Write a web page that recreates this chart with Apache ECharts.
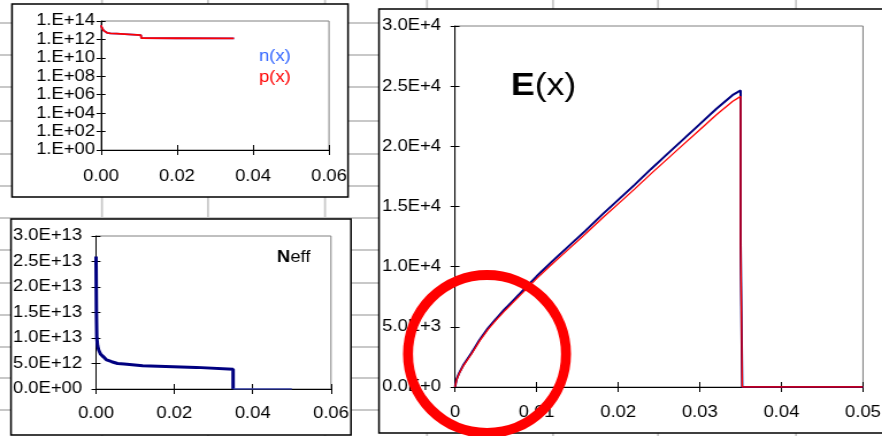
<!DOCTYPE html>
<html>
<head>
<meta charset="utf-8">
<script src="https://cdn.jsdelivr.net/npm/echarts@6/dist/echarts.min.js"></script>
<style>
  html, body { margin: 0; padding: 0; background: #fff; overflow: hidden; }
  #wrap { width: 882px; height: 436px; overflow: hidden; position: relative; }
  /* the sheet is drawn slightly condensed and stretched back horizontally */
  #chart { width: 767px; height: 436px; transform: scaleX(1.15); transform-origin: 0 0; }
</style>
</head>
<body>
<div id="wrap"><div id="chart"></div></div>
<script>
// ---- carrier densities n(x), p(x) versus depth x ----
const densX = [0, 0.0002, 0.0004, 0.0007, 0.0011, 0.0016, 0.0025, 0.0041, 0.0042, 0.0105, 0.0106, 0.02, 0.035];
const nDens = [3.5e13, 2.0e13, 1.3e13, 9.0e12, 6.5e12, 5.2e12, 4.6e12, 4.3e12, 3.1e12, 2.9e12, 1.4e12, 1.35e12, 1.3e12];
const pDens = [3.5e13, 2.0e13, 1.3e13, 9.0e12, 6.5e12, 5.2e12, 4.6e12, 4.3e12, 3.1e12, 2.9e12, 1.4e12, 1.35e12, 1.3e12];

// ---- effective doping Neff versus depth x ----
const neffX = [0, 0.0001, 0.0002, 0.0004, 0.0007, 0.0012, 0.0019, 0.0027, 0.004, 0.0055, 0.0072, 0.0073, 0.0119, 0.012, 0.0256, 0.0257, 0.035, 0.035];
const neffY = [2.6e13, 1.5e13, 1.0e13, 8.5e12, 7.6e12, 6.8e12, 6.3e12, 5.7e12, 5.35e12, 5.0e12, 4.9e12, 4.57e12, 4.57e12, 4.24e12, 4.24e12, 3.85e12, 3.85e12, 0];
const neffTailX = [0.035, 0.05];
const neffTailY = [0, 0];

// ---- electric field E(x) ----
const fieldX = [0, 0.0002, 0.0005, 0.001, 0.0015, 0.002, 0.003, 0.004, 0.005, 0.006, 0.007, 0.008, 0.009, 0.010,
                0.012, 0.014, 0.016, 0.018, 0.020, 0.022, 0.024, 0.026, 0.028, 0.030, 0.032, 0.034, 0.035, 0.035, 0.0352, 0.05];
const fieldN = [0, 650, 1150, 1800, 2300, 2800, 3900, 4850, 5650, 6400, 7100, 7800, 8500, 9200,
                10500, 11750, 13000, 14300, 15550, 16800, 18100, 19350, 20600, 21850, 23100, 24250, 24650, 12000, 0, 0];
const fieldP = [0, 600, 1100, 1740, 2230, 2720, 3810, 4740, 5530, 6270, 6950, 7640, 8320, 9010,
                10280, 11500, 12730, 14000, 15220, 16440, 17710, 18940, 20160, 21380, 22600, 23720, 24150, 12000, 0, 0];

// ---- axis ranges ----
const densRange = { xmin: 0, xmax: 0.06, xstep: 0.02, ymin: 1, ymax: 1e14 };
const neffRange = { xmin: 0, xmax: 0.06, xstep: 0.02, ymin: 0, ymax: 3e13, ystep: 5e12 };
const fieldRange = { xmin: 0, xmax: 0.05, xstep: 0.01, ymin: 0, ymax: 30000, ystep: 5000 };

// ---- page layout ----
const SX = 1.15;
const px = v => v / SX;
const sheetRows = [23, 55, 87, 121, 154, 186, 218, 250, 283, 315, 347, 378, 410];
const sheetCols = [102, 208, 325, 427, 553, 658, 796];
const FONT = '"Liberation Sans", Arial, Helvetica, sans-serif';

const zip = (xs, ys) => xs.map((x, i) => [x, ys[i]]);

function sci(v, pad) {
  const s = v.toExponential(1).split('e');
  let sign = s[1][0], d = s[1].slice(1);
  if (pad) d = d.padStart(2, '0');
  return s[0] + 'E' + sign + d;
}
const logLabel = v => '1.E+' + String(Math.round(Math.log10(v))).padStart(2, '0');

const labelStyle = { color: '#000', fontSize: 16, fontFamily: FONT };

function xAxes(grid, r, margin, fmt) {
  return [
    { type: 'value', gridIndex: grid, position: 'bottom', min: r.xmin, max: r.xmax, interval: r.xstep,
      axisLine: { show: true, lineStyle: { color: '#000', width: 1 } },
      axisTick: { show: true, inside: false, length: 5, lineStyle: { color: '#000' } },
      axisLabel: Object.assign({ margin: margin, formatter: fmt }, labelStyle),
      splitLine: { show: false } },
    { type: 'value', gridIndex: grid, position: 'bottom', min: r.xmin, max: r.xmax, interval: r.xstep,
      axisLine: { show: false },
      axisTick: { show: true, inside: true, length: 5, lineStyle: { color: '#000' } },
      axisLabel: { show: false }, splitLine: { show: false } }
  ];
}
function yAxes(grid, base, margin, fmt) {
  const main = Object.assign({ gridIndex: grid, position: 'left',
      axisLine: { show: true, lineStyle: { color: '#000', width: 1 } },
      axisTick: { show: true, inside: false, length: px(4.5), lineStyle: { color: '#000' } },
      axisLabel: Object.assign({ margin: px(margin), formatter: fmt }, labelStyle),
      splitLine: { show: false } }, base);
  const ghost = Object.assign({ gridIndex: grid, position: 'left',
      axisLine: { show: false },
      axisTick: { show: true, inside: true, length: px(4.5), lineStyle: { color: '#000' } },
      axisLabel: { show: false }, splitLine: { show: false } }, base);
  return [main, ghost];
}

const gridBase = { show: true, borderColor: '#808080', borderWidth: 1, backgroundColor: 'transparent',
                   containLabel: false, outerBoundsMode: 'none' };

// sheet background, chart frames and annotations
const graphics = [];
sheetRows.forEach(y => graphics.push({ type: 'line', silent: true, z: -20,
  shape: { x1: 0, y1: y, x2: px(882), y2: y }, style: { stroke: '#c8c8c8', lineWidth: 2 } }));
sheetCols.forEach(x => graphics.push({ type: 'line', silent: true, z: -20,
  shape: { x1: px(x), y1: 0, x2: px(x), y2: 436 }, style: { stroke: '#c8c8c8', lineWidth: px(2) } }));
[[12, 4, 348, 197], [11, 219, 351, 435], [379, 9, 890, 433]].forEach(b => graphics.push({
  type: 'rect', silent: true, z: -10,
  shape: { x: px(b[0]), y: b[1], width: px(b[2] - b[0]), height: b[3] - b[1] },
  style: { fill: '#fff', stroke: '#000', lineWidth: 1.5 } }));
graphics.push({ type: 'text', silent: true, z: 100, x: px(259), y: 57,
  style: { text: 'n(x)', fill: '#3366ff', fontSize: 16, fontFamily: FONT, verticalAlign: 'middle', textVerticalAlign: 'middle' } });
graphics.push({ type: 'text', silent: true, z: 100, x: px(259), y: 78,
  style: { text: 'p(x)', fill: '#ff0000', fontSize: 16, fontFamily: FONT, verticalAlign: 'middle', textVerticalAlign: 'middle' } });
graphics.push({ type: 'text', silent: true, z: 100, x: px(277), y: 258,
  style: { text: '{b|N}eff', fill: '#000', fontSize: 16, fontFamily: FONT, verticalAlign: 'middle', textVerticalAlign: 'middle',
           rich: { b: { fontWeight: 'bold', fontSize: 16, fontFamily: FONT, fill: '#000' } } } });
graphics.push({ type: 'text', silent: true, z: 100, x: px(511), y: 86,
  style: { text: '{b|E}(x)', fill: '#000', fontSize: 31, fontFamily: FONT, verticalAlign: 'middle', textVerticalAlign: 'middle',
           rich: { b: { fontWeight: 'bold', fontSize: 31, fontFamily: FONT, fill: '#000' } } } });
graphics.push({ type: 'circle', silent: true, z: 200, x: px(487), y: 354, scaleX: 1 / SX,
  shape: { cx: 0, cy: 0, r: 79 }, style: { fill: 'none', stroke: '#ff0000', lineWidth: 10 } });

const option = {
  animation: false,
  backgroundColor: '#fff',
  grid: [
    Object.assign({ left: px(101), top: 21, width: px(228), height: 129 }, gridBase),
    Object.assign({ left: px(96), top: 236, width: px(235), height: 153 }, gridBase),
    Object.assign({ left: px(455), top: 26, width: px(408), height: 361 }, gridBase)
  ],
  xAxis: [
    ...xAxes(0, densRange, 19, v => v.toFixed(2)),
    ...xAxes(1, neffRange, 17, v => v.toFixed(2)),
    ...xAxes(2, fieldRange, 18, v => (v === 0 ? '0' : String(+v.toFixed(3))))
  ],
  yAxis: [
    ...yAxes(0, { type: 'log', logBase: 100, min: densRange.ymin, max: densRange.ymax, splitNumber: 7 }, 6, logLabel),
    ...yAxes(1, { type: 'value', min: neffRange.ymin, max: neffRange.ymax, interval: neffRange.ystep }, 14, v => sci(v, true)),
    ...yAxes(2, { type: 'value', min: fieldRange.ymin, max: fieldRange.ymax, interval: fieldRange.ystep }, 14, v => sci(v, false))
  ],
  series: [
    { name: 'n(x)', type: 'line', xAxisIndex: 0, yAxisIndex: 0, showSymbol: false, data: zip(densX, nDens),
      lineStyle: { color: '#3366ff', width: 1.8 } },
    { name: 'p(x)', type: 'line', xAxisIndex: 0, yAxisIndex: 0, showSymbol: false, data: zip(densX, pDens),
      lineStyle: { color: '#ff0000', width: 1.8 } },
    { name: 'Neff', type: 'line', xAxisIndex: 2, yAxisIndex: 2, showSymbol: false, data: zip(neffX, neffY),
      lineStyle: { color: '#000080', width: 3 } },
    { name: 'Neff tail', type: 'line', xAxisIndex: 2, yAxisIndex: 2, showSymbol: false, data: zip(neffTailX, neffTailY),
      lineStyle: { color: '#3a45b0', width: 1.5 } },
    { name: 'E n', type: 'line', xAxisIndex: 4, yAxisIndex: 4, showSymbol: false, data: zip(fieldX, fieldN),
      lineStyle: { color: '#000080', width: 2 } },
    { name: 'E p', type: 'line', xAxisIndex: 4, yAxisIndex: 4, showSymbol: false, data: zip(fieldX, fieldP),
      lineStyle: { color: '#ff0000', width: 1.3 } }
  ],
  graphic: { elements: graphics }
};

const chart = echarts.init(document.getElementById('chart'), null, { renderer: 'canvas' });
chart.setOption(option);
</script>
</body>
</html>
